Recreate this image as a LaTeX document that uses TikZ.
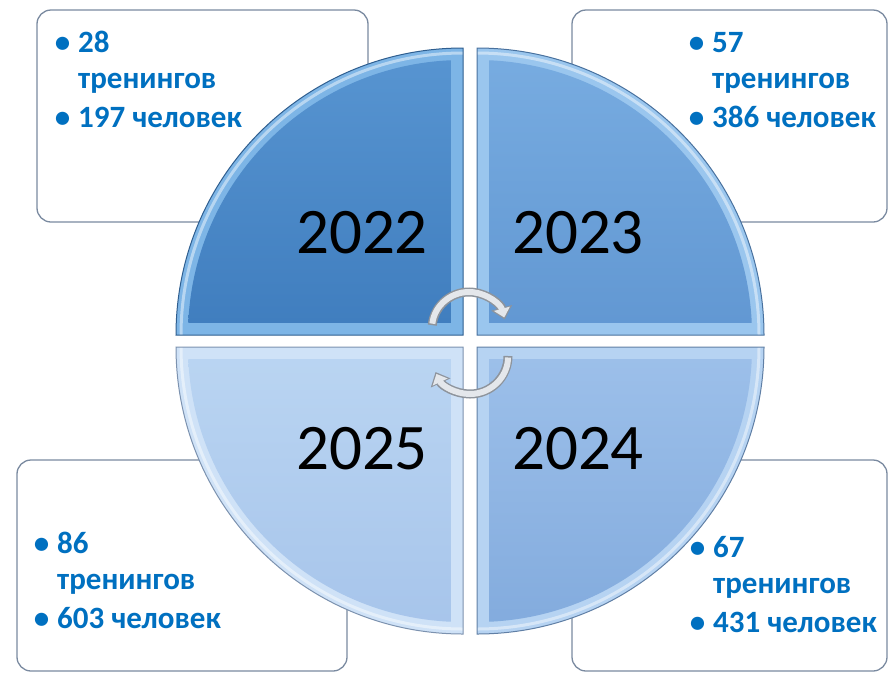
\documentclass[tikz,border=0pt]{standalone}
\usepackage{fontspec}
\setmainfont{Carlito}
\usepackage{xcolor}
\usepackage{tikz}
\usetikzlibrary{arrows.meta}

\definecolor{boxline}{HTML}{7A8AA0}
\definecolor{itemblue}{HTML}{0070C0}
\definecolor{q22a}{HTML}{5A97D3}\definecolor{q22b}{HTML}{3F7DBE}\definecolor{q22e}{HTML}{7DB5E6}
\definecolor{q23a}{HTML}{7AAEE2}\definecolor{q23b}{HTML}{6197D2}\definecolor{q23e}{HTML}{9AC6EE}
\definecolor{q24a}{HTML}{9DC0EA}\definecolor{q24b}{HTML}{80A9DC}\definecolor{q24e}{HTML}{B6D3F2}
\definecolor{q25a}{HTML}{BAD5F2}\definecolor{q25b}{HTML}{A5C3EA}\definecolor{q25e}{HTML}{CFE2F7}
\definecolor{arrowedge}{HTML}{8E949C}
\definecolor{arrowface}{HTML}{E4E7EB}

\tikzstyle{infobox} = [draw=boxline,line width=1.3pt,fill=white,rounded corners=14pt]
\tikzstyle{yeartext} = [font=\fontsize{65}{70}\selectfont,inner sep=0pt]
\tikzstyle{itemtext} = [font=\fontsize{31}{36}\selectfont\bfseries,text=itemblue,anchor=base west,inner sep=0pt]
\tikzstyle{arrowout} = [line width=9pt,draw=arrowedge,-{Triangle[length=12pt,width=21pt]}]
\tikzstyle{arrowin} = [line width=6pt,draw=arrowface,-{Triangle[length=9pt,width=16pt]},shorten >=2pt,shorten <=1.5pt]

\begin{document}
\begin{tikzpicture}[x=1pt,y=-1pt]
	\useasboundingbox (0,0) rectangle (889,673);
	
	% Boxes behind the circle:
	\draw[infobox] (37,10) rectangle (368,222);
	\draw[infobox] (572,10) rectangle (887,222);
	\draw[infobox] (17,460) rectangle (347,671);
	\draw[infobox] (572,460) rectangle (887,671);
	
	% Quarters of the circle (corner, start angle, colours):
	\foreach \cx/\cy/\a/\ca/\cb/\ce [evaluate=\a as \b using \a+45] in
		{463/335/180/q22a/q22b/q22e, 477/335/270/q23a/q23b/q23e,
		 477/347/0/q24a/q24b/q24e, 463/347/90/q25a/q25b/q25e}
	{
		\fill[\ce] (\cx,\cy) -- ++(\a:287) arc[start angle=\a, delta angle=90, radius=287] -- cycle;
		\begin{scope}
			\clip (\cx,\cy) circle (275);
			\shade[top color=\ca, bottom color=\cb] (\cx,\cy) ++(\b:17) rectangle +(\b:420);
		\end{scope}
		\draw[white, opacity=0.45, line width=3pt] (\cx,\cy) ++(\a:282) arc[start angle=\a, delta angle=90, radius=282];
		\draw[\cb!75!black, line width=1pt] (\cx,\cy) -- ++(\a:287) arc[start angle=\a, delta angle=90, radius=287] -- cycle;
	}
	
	% Years:
	\node[yeartext] (y2022) at (362,233) {2022};
	\node[yeartext] (y2023) at (578,233) {2023};
	\node[yeartext] (y2024) at (578,449) {2024};
	\node[yeartext] (y2025) at (362,449) {2025};
	
	% Cycle arrows:
	\draw[arrowout] (469,329) ++(186:37) arc[start angle=186, end angle=345, radius=37];
	\draw[arrowin] (469,329) ++(186:37) arc[start angle=186, end angle=345, radius=37];
	\draw[arrowout] (470,356) ++(0:38) arc[start angle=0, end angle=155, radius=38];
	\draw[arrowin] (470,356) ++(0:38) arc[start angle=0, end angle=155, radius=38];
	
	% Texts in the boxes:
	\foreach \nm/\bx/\by/\num/\ppl in {22/78/52/28/197, 23/712/52/57/386, 25/57/553/86/603, 24/713/557/67/431}
	{
		\node[itemtext] (num\nm) at (\bx,\by) {\llap{•\hspace{8pt}}\num};
		\node[itemtext] (tr\nm) at (\bx,\by+36) {тренингов};
		\node[itemtext] (ppl\nm) at (\bx,\by+75) {\llap{•\hspace{8pt}}\ppl{} человек};
	}
	
\end{tikzpicture}
\end{document}
